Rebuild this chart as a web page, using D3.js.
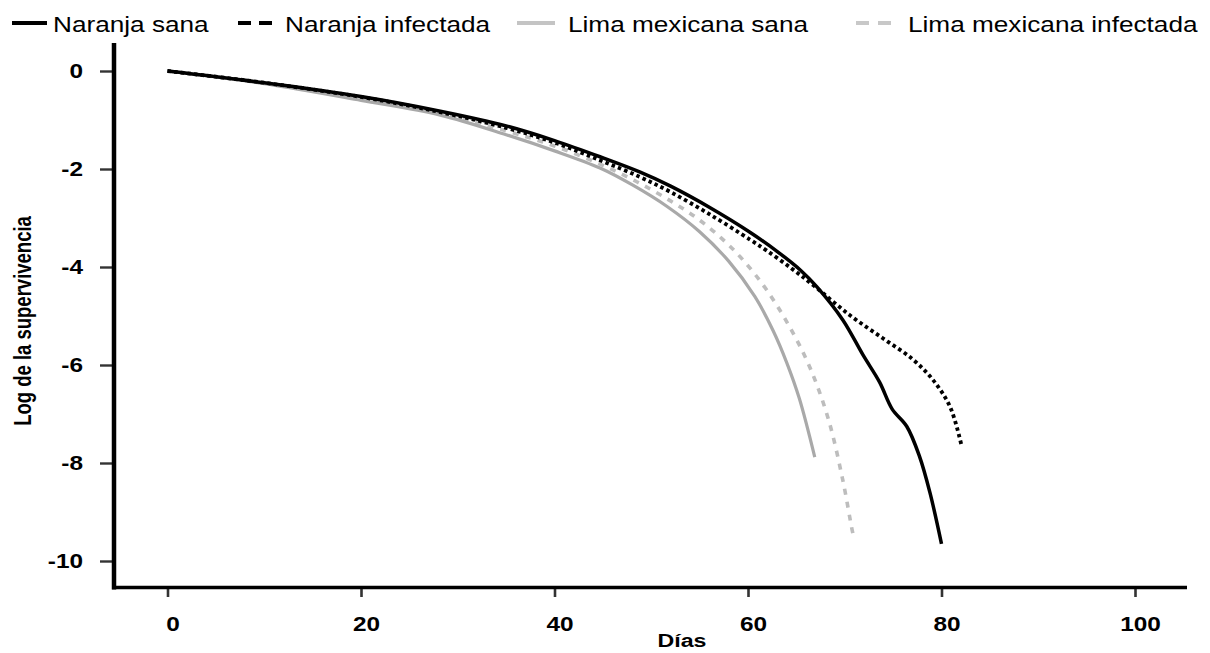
<!DOCTYPE html>
<html>
<head>
<meta charset="utf-8">
<script src="https://cdn.jsdelivr.net/npm/d3@7"></script>
<style>
  html, body { margin: 0; padding: 0; background: #fff; }
  svg { display: block; font-family: "Liberation Sans", Arial, sans-serif; }
</style>
</head>
<body>
<svg id="chart" width="1210" height="653"></svg>
<script>
// ---------- data ----------
const seriesNames = ["Naranja sana", "Naranja infectada", "Lima mexicana sana", "Lima mexicana infectada"];

const naranjaSanaDias = [0, 10, 20, 28.2, 35, 40, 44.7, 48.8, 52, 56, 60.2, 63, 65.4, 67.1, 69.8, 71.9, 73.6, 74.9, 76.4, 77.7, 78.8, 80.0];
const naranjaSanaLog  = [0, -0.24, -0.52, -0.82, -1.12, -1.42, -1.75, -2.06, -2.35, -2.78, -3.29, -3.68, -4.06, -4.40, -5.08, -5.80, -6.35, -6.90, -7.25, -7.85, -8.60, -9.65];

const naranjaInfDias = [0, 10, 20, 28.2, 35, 40, 44.7, 48.8, 52, 56, 60.2, 61.9, 64.5, 66.8, 70.5, 73.9, 77.0, 79.1, 80.9, 82.1];
const naranjaInfLog  = [0, -0.24, -0.53, -0.84, -1.16, -1.46, -1.82, -2.16, -2.47, -2.92, -3.44, -3.66, -4.03, -4.38, -4.98, -5.45, -5.88, -6.30, -6.86, -7.67];

const limaSanaDias = [0, 10, 20, 28.2, 35, 40, 44.7, 48.1, 51.6, 55, 58, 60.7, 62.6, 64, 65.3, 66.9];
const limaSanaLog  = [0, -0.26, -0.60, -0.90, -1.30, -1.63, -1.98, -2.33, -2.76, -3.28, -3.88, -4.60, -5.30, -5.95, -6.68, -7.88];

const limaInfDias = [0, 10, 20, 28.2, 35, 40, 44.7, 48.5, 51.9, 54.7, 57.3, 59.5, 61.9, 64.3, 66.4, 68.3, 69.8, 70.8, 71.0];
const limaInfLog  = [0, -0.25, -0.57, -0.87, -1.22, -1.53, -1.90, -2.26, -2.64, -3.00, -3.42, -3.86, -4.46, -5.22, -6.05, -7.10, -8.35, -9.40, -9.55];

const xTicks = [0, 20, 40, 60, 80, 100];
const yTicks = [0, -2, -4, -6, -8, -10];
const xTitle = "Días";
const yTitle = "Log de la supervivencia";

// ---------- styles ----------
const styles = [
  { color: "#000000", width: 3.5, dash: null,  legendDash: null,   legendColor: "#000000" },
  { color: "#000000", width: 3.8, dash: "3.5,3.2", legendDash: "13,8", legendColor: "#000000" },
  { color: "#a9a9a9", width: 3.2, dash: null,  legendDash: null,   legendColor: "#c4c4c4" },
  { color: "#bdbdbd", width: 3.6, dash: "6,7", legendDash: "13,9", legendColor: "#c8c8c8" }
];

const series = [
  { name: seriesNames[0], pts: naranjaSanaDias.map((d, i) => [d, naranjaSanaLog[i]]) },
  { name: seriesNames[1], pts: naranjaInfDias.map((d, i) => [d, naranjaInfLog[i]]) },
  { name: seriesNames[2], pts: limaSanaDias.map((d, i) => [d, limaSanaLog[i]]) },
  { name: seriesNames[3], pts: limaInfDias.map((d, i) => [d, limaInfLog[i]]) }
];

const svg = d3.select("#chart");

const x = d3.scaleLinear().domain([0, 100]).range([167.5, 1135]);
const y = d3.scaleLinear().domain([0, -10]).range([71, 561]);
const fmt = d => String(d);

// ---------- axes ----------
const yAxisG = svg.append("g").attr("transform", "translate(112,0)")
  .call(d3.axisLeft(y).tickValues(yTicks).tickSize(12).tickFormat(fmt));
yAxisG.select(".domain").remove();
yAxisG.selectAll(".tick line").attr("stroke", "#333").attr("stroke-width", 2.4);
yAxisG.selectAll(".tick text")
  .attr("x", null).attr("dy", "0.35em")
  .attr("transform", "translate(-29,0) scale(1.25,1)")
  .attr("text-anchor", "end")
  .attr("fill", "#000")
  .style("font-size", "19.5px").style("font-weight", "bold")
  .style("font-family", '"Liberation Sans", Arial, sans-serif');

const xAxisG = svg.append("g").attr("transform", "translate(0,589)")
  .call(d3.axisBottom(x).tickValues(xTicks).tickSize(8).tickFormat(fmt));
xAxisG.select(".domain").remove();
xAxisG.selectAll(".tick line").attr("stroke", "#333").attr("stroke-width", 2.6);
xAxisG.selectAll(".tick text")
  .attr("y", null).attr("dy", null)
  .attr("transform", "translate(5,42) scale(1.22,1)")
  .attr("text-anchor", "middle")
  .attr("fill", "#000")
  .style("font-size", "20px").style("font-weight", "bold")
  .style("font-family", '"Liberation Sans", Arial, sans-serif');

// frame lines
svg.append("line").attr("x1", 114).attr("x2", 114).attr("y1", 43).attr("y2", 589.5)
  .attr("stroke", "#000").attr("stroke-width", 4.5);
svg.append("line").attr("x1", 112).attr("x2", 1187).attr("y1", 587.5).attr("y2", 587.5)
  .attr("stroke", "#000").attr("stroke-width", 3.5);

// axis titles
svg.append("text").text(xTitle)
  .attr("transform", "translate(682,647) scale(1.22,1)")
  .attr("text-anchor", "middle")
  .style("font-size", "19px").style("font-weight", "bold");

svg.append("text").text(yTitle)
  .attr("transform", "translate(31,321) rotate(-90) scale(1,1.25)")
  .attr("text-anchor", "middle")
  .style("font-size", "18.5px").style("font-weight", "bold");

// ---------- lines ----------
const line = d3.line()
  .x(d => x(d[0]))
  .y(d => y(d[1]))
  .curve(d3.curveCatmullRom.alpha(0.5));

// draw gray first, then black
[3, 2, 1, 0].forEach(i => {
  const s = series[i], st = styles[i];
  svg.append("path")
    .attr("d", line(s.pts))
    .attr("fill", "none")
    .attr("stroke", st.color)
    .attr("stroke-width", st.width)
    .attr("stroke-dasharray", st.dash)
    .attr("stroke-linejoin", "round");
});

// ---------- legend ----------
const legendLayout = [
  { x1: 12, x2: 47, tx: 53 },
  { x1: 238, x2: 272, tx: 285 },
  { x1: 517, x2: 555, tx: 568 },
  { x1: 856, x2: 891, tx: 908 }
];
series.forEach((s, i) => {
  const L = legendLayout[i], st = styles[i];
  svg.append("line")
    .attr("x1", L.x1).attr("x2", L.x2).attr("y1", 23).attr("y2", 23)
    .attr("stroke", st.legendColor).attr("stroke-width", 4)
    .attr("stroke-dasharray", st.legendDash);
  svg.append("text").text(s.name)
    .attr("transform", `translate(${L.tx},31.5) scale(1.19,1)`)
    .style("font-size", "22px")
    .attr("fill", "#000");
});
</script>
</body>
</html>
